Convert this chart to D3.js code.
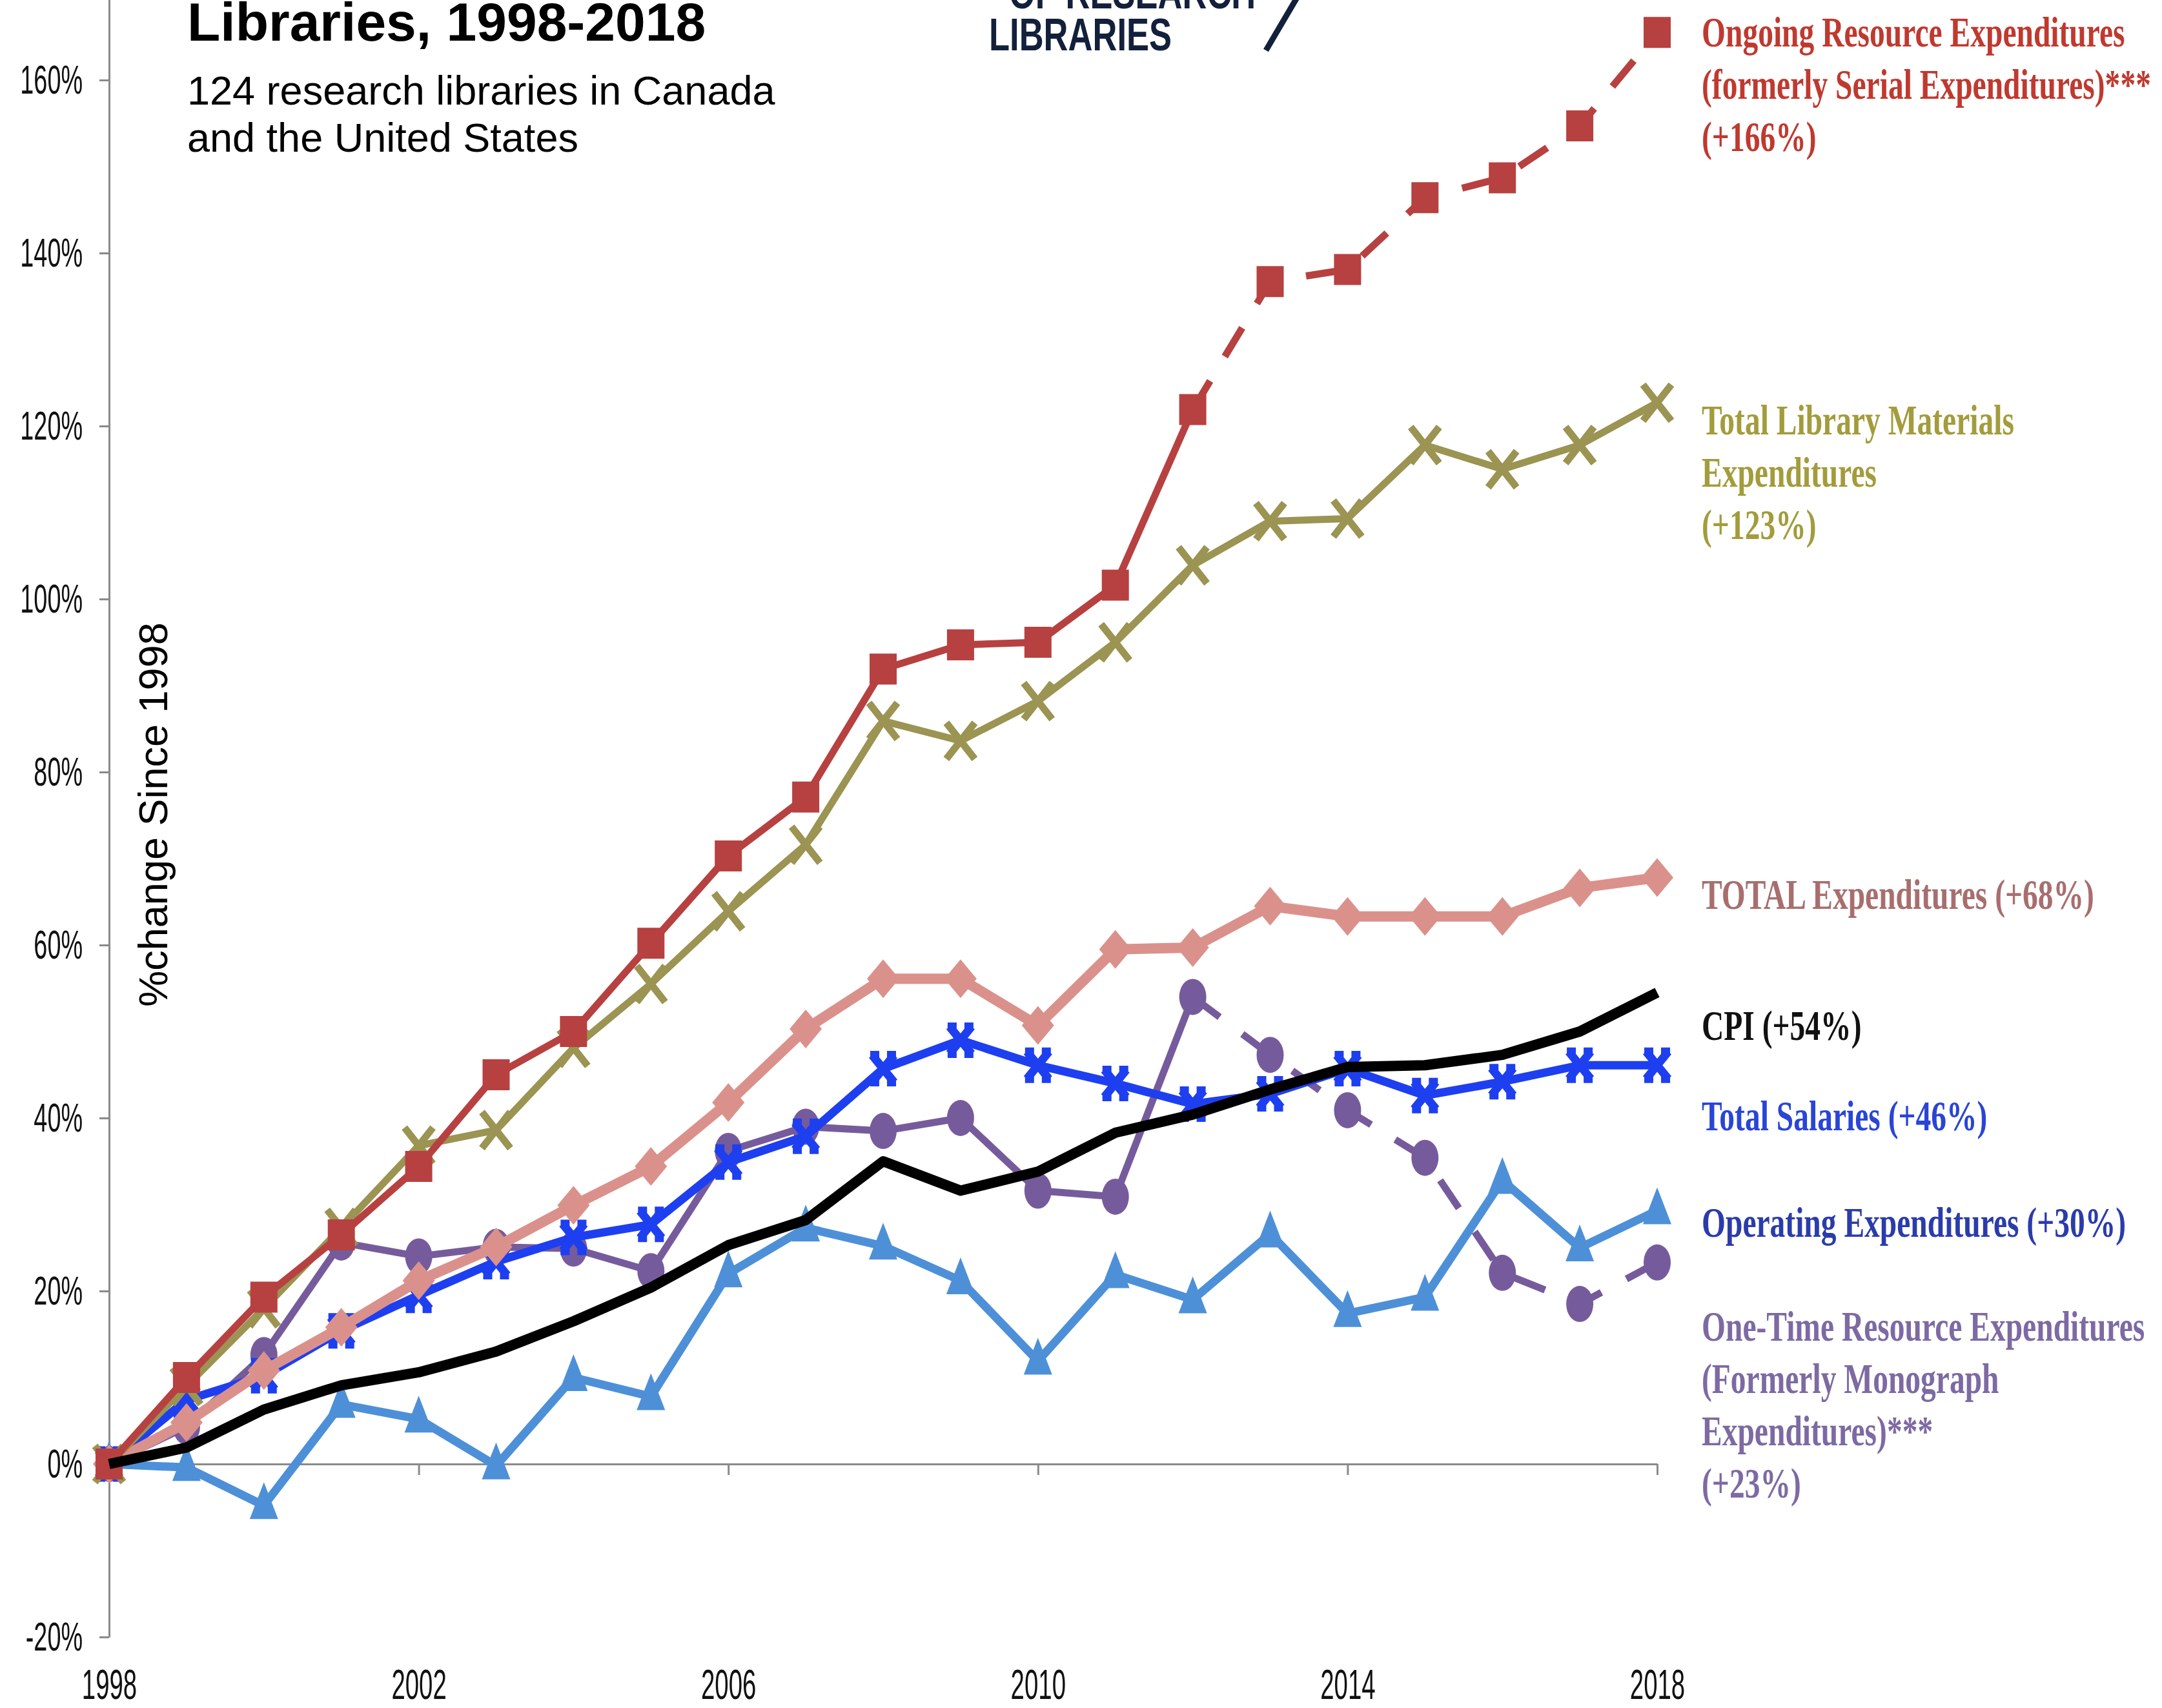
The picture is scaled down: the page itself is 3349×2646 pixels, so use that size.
<!DOCTYPE html>
<html>
<head>
<meta charset="utf-8">
<script src="https://cdn.jsdelivr.net/npm/d3@7"></script>
<style>
  body { margin: 0; background: #fff; }
  svg { display: block; }
</style>
</head>
<body>
<div id="chart"></div>
<script>
////// DATA (% change since 1998)
var years = [1998, 1999, 2000, 2001, 2002, 2003, 2004, 2005, 2006, 2007, 2008,
             2009, 2010, 2011, 2012, 2013, 2014, 2015, 2016, 2017, 2018];

var ongoingResource = [0, 10.0, 19.3, 26.5, 34.4, 45.0, 50.0, 60.2, 70.3, 77.1, 91.9,
                       94.7, 95.0, 101.6, 121.9, 136.7, 138.1, 146.4, 148.7, 154.7, 165.5];
var libraryMaterials = [0, 9.0, 18.0, 27.3, 36.8, 38.6, 48.1, 55.5, 63.9, 71.6, 85.9,
                        83.6, 88.2, 95.0, 103.9, 109.0, 109.3, 117.8, 115.0, 117.8, 122.7];
var totalExpenditures = [0, 4.8, 10.8, 15.8, 21.2, 25.1, 29.9, 34.4, 41.8, 50.3, 56.1,
                         56.1, 50.7, 59.5, 59.7, 64.5, 63.3, 63.3, 63.3, 66.6, 67.8];
var cpi = [0, 1.9, 6.3, 9.1, 10.6, 13.0, 16.5, 20.4, 25.3, 28.2, 35.0,
           31.6, 33.8, 38.3, 40.4, 43.3, 45.9, 46.1, 47.3, 50.0, 54.5];
var totalSalaries = [0, 7.4, 10.2, 15.4, 19.5, 23.4, 26.2, 27.7, 34.9, 37.9, 45.7,
                     49.0, 46.1, 44.0, 41.6, 42.8, 45.7, 42.6, 44.2, 46.1, 46.1];
var operatingExp = [0, -0.4, -4.8, 6.9, 5.2, -0.2, 10.0, 7.8, 22.0, 27.3, 25.2,
                    21.2, 11.9, 21.9, 19.0, 26.6, 17.4, 19.3, 32.8, 25.0, 29.3];
var oneTimeResource = [0, 4.3, 12.6, 25.6, 24.0, 25.1, 24.9, 22.3, 36.2, 39.0, 38.5,
                       40.0, 31.6, 30.9, 54.0, 47.3, 40.9, 35.4, 22.1, 18.5, 23.3];

// year where the reporting definition changed (dashed afterwards)
var definitionChange = 2012;

var yTicks = [-20, 0, 20, 40, 60, 80, 100, 120, 140, 160];
var xTicks = [1998, 2002, 2006, 2010, 2014, 2018];

var titleText = "Libraries, 1998-2018";
var subtitleLines = ["124 research libraries in Canada", "and the United States"];
var yLabel = "%change Since 1998";

////// SERIES SETUP (drawn bottom to top)
var series = [
    { values: operatingExp, color: "#4d90d8", width: 13, marker: "triangle",
      label: ["Operating Expenditures (+30%)"], labelColor: "#2b3caa", labelY: 1916 },
    { values: oneTimeResource, color: "#765b9c", width: 11, marker: "circle", dashed: true,
      label: ["One-Time Resource Expenditures", "(Formerly Monograph", "Expenditures)***", "(+23%)"],
      labelColor: "#7d6aa3", labelY: 2077 },
    { values: totalSalaries, color: "#1e3ff0", width: 13, marker: "star",
      label: ["Total Salaries (+46%)"], labelColor: "#2a45d6", labelY: 1751 },
    { values: totalExpenditures, color: "#db918b", width: 16, marker: "diamond",
      label: ["TOTAL Expenditures (+68%)"], labelColor: "#a86e6e", labelY: 1408 },
    { values: libraryMaterials, color: "#9b9452", width: 11, marker: "x",
      label: ["Total Library Materials", "Expenditures", "(+123%)"], labelColor: "#a39c3c", labelY: 673 },
    { values: ongoingResource, color: "#b74140", width: 11, marker: "square", dashed: true,
      label: ["Ongoing Resource Expenditures", "(formerly Serial Expenditures)***", "(+166%)"],
      labelColor: "#c0392f", labelY: 72 },
    { values: cpi, color: "#000000", width: 16, marker: "none",
      label: ["CPI (+54%)"], labelColor: "#111111", labelY: 1611 }
];

////// SVG
var W = 3349, H = 2646;
var svg = d3.select("#chart").append("svg")
    .attr("width", W)
    .attr("height", H);

var x = d3.scaleLinear().domain([1998, 2018]).range([169, 2567]);
// axis runs past the top of the picture (to 180%)
var y = d3.scaleLinear().domain([-20, 180]).range([2536, -144]);

var condensed = 0.6;

////// Y AXIS
var yAxis = svg.append("g")
    .attr("transform", "translate(" + x(1998) + ",0)")
    .call(d3.axisLeft(y).tickValues(yTicks).tickSize(15).tickSizeOuter(0)
        .tickFormat(function(d) { return d + "%"; }));
yAxis.select(".domain").attr("stroke", "#8a8a8a").attr("stroke-width", 3);
yAxis.selectAll(".tick line").attr("stroke", "#8a8a8a").attr("stroke-width", 3);
yAxis.selectAll("text")
    .attr("font-family", "Liberation Sans, Arial, sans-serif")
    .attr("font-size", 63)
    .attr("fill", "#111")
    .attr("transform", "scale(" + condensed + ",1)")
    .attr("x", -41 / condensed);

////// X AXIS (line at 0%, labels at the bottom)
var xAxis = svg.append("g")
    .attr("transform", "translate(0," + y(0) + ")")
    .call(d3.axisBottom(x).tickValues(xTicks).tickSize(17).tickSizeOuter(0)
        .tickFormat(d3.format("d")));
xAxis.select(".domain").attr("stroke", "#8a8a8a").attr("stroke-width", 3);
xAxis.selectAll(".tick line").attr("stroke", "#8a8a8a").attr("stroke-width", 3);
xAxis.selectAll("text")
    .attr("font-family", "Liberation Sans, Arial, sans-serif")
    .attr("font-size", 64)
    .attr("fill", "#111")
    .attr("dy", null)
    .attr("y", 364)
    .attr("transform", "scale(" + condensed + ",1)");

// Y axis title
svg.append("text")
    .attr("transform", "translate(259,1262) rotate(-90)")
    .attr("text-anchor", "middle")
    .attr("font-family", "Liberation Sans, Arial, sans-serif")
    .attr("font-size", 63)
    .attr("fill", "#000")
    .text(yLabel);

////// LINES
var line = d3.line()
    .x(function(d) { return x(d.year); })
    .y(function(d) { return y(d.value); });

function markerPath(shape) {
    if (shape === "square") return "M-21,-24H21V24H-21Z";
    if (shape === "diamond") return "M0,-30L25,0L0,30L-25,0Z";
    if (shape === "triangle") return "M0,-36L22,21L-22,21Z";
    return null;
}

series.forEach(function(s) {
    var pts = years.map(function(yr, i) { return { year: yr, value: s.values[i] }; });
    var solid = s.dashed ? pts.filter(function(d) { return d.year <= definitionChange; }) : pts;
    var dash = s.dashed ? pts.filter(function(d) { return d.year >= definitionChange; }) : [];

    var g = svg.append("g");
    g.append("path")
        .datum(solid)
        .attr("d", line)
        .attr("fill", "none")
        .attr("stroke", s.color)
        .attr("stroke-width", s.width)
        .attr("stroke-linejoin", "round");
    if (dash.length) {
        g.append("path")
            .datum(dash)
            .attr("d", line)
            .attr("fill", "none")
            .attr("stroke", s.color)
            .attr("stroke-width", s.width)
            .attr("stroke-dasharray", "52,44");
    }

    if (s.marker === "none") return;
    var m = g.selectAll(".mk").data(pts).enter().append("g")
        .attr("transform", function(d) { return "translate(" + x(d.year) + "," + y(d.value) + ")"; });

    if (s.marker === "circle") {
        m.append("ellipse").attr("rx", 21).attr("ry", 28).attr("fill", s.color);
    } else if (s.marker === "x") {
        m.append("path").attr("d", "M-22,-28L22,28M-22,28L22,-28")
            .attr("stroke", s.color).attr("stroke-width", 11);
    } else if (s.marker === "star") {
        m.append("path").attr("d", "M-17,-21L17,21M-17,21L17,-21M-20,-21H-6M6,-21H20M-20,21H-6M6,21H20")
            .attr("stroke", s.color).attr("stroke-width", 13);
    } else {
        m.append("path").attr("d", markerPath(s.marker)).attr("fill", s.color);
    }
});

////// SERIES LABELS (right side)
var labelX = 2636, labelStep = 81, labelScale = 0.72;
series.forEach(function(s) {
    var t = svg.append("text")
        .attr("transform", "translate(" + labelX + "," + s.labelY + ") scale(" + labelScale + ",1)")
        .attr("font-family", "Liberation Serif, Times New Roman, serif")
        .attr("font-weight", "bold")
        .attr("font-size", 66)
        .attr("fill", s.labelColor);
    s.label.forEach(function(txt, i) {
        t.append("tspan").attr("x", 0).attr("y", i * labelStep).text(txt);
    });
});

////// TITLE
svg.append("text")
    .attr("x", 290).attr("y", 63)
    .attr("font-family", "Liberation Sans, Arial, sans-serif")
    .attr("font-weight", "bold")
    .attr("font-size", 84)
    .attr("fill", "#000")
    .text(titleText);

svg.append("g").selectAll("text")
    .data(subtitleLines)
    .enter().append("text")
    .attr("x", 290)
    .attr("y", function(d, i) { return 162 + i * 73; })
    .attr("font-family", "Liberation Sans, Arial, sans-serif")
    .attr("font-size", 63)
    .attr("fill", "#000")
    .text(function(d) { return d; });

////// LOGO (cut off at the top)
var logo = svg.append("g").attr("fill", "#13203b")
    .attr("font-family", "Liberation Sans, Arial, sans-serif")
    .attr("font-weight", "bold")
    .attr("font-size", 71);
logo.append("text").attr("transform", "translate(1563,13) scale(0.74,1)").text("OF RESEARCH");
logo.append("text").attr("transform", "translate(1532,78) scale(0.74,1)").text("LIBRARIES");
logo.append("line")
    .attr("x1", 2014).attr("y1", -12).attr("x2", 1961).attr("y2", 78)
    .attr("stroke", "#13203b").attr("stroke-width", 9);
</script>
</body>
</html>
